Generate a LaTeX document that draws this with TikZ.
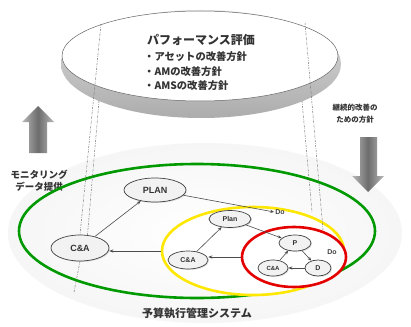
\documentclass[tikz,border=0pt]{standalone}
\usepackage{fontspec}
\setmainfont{Liberation Sans}
\newfontfamily\jp{Noto Sans CJK JP}
\usetikzlibrary{shapes.geometric,arrows.meta,shadows}
\pgfdeclareradialshading{diskshade}{\pgfpoint{0bp}{0bp}}{color(0bp)=(white); color(28bp)=(white!92!gray); color(40bp)=(gray!25); color(50bp)=(gray!55)}
\tikzset{
  cyc/.style={ellipse, draw=black!75, line width=0.7pt, fill=gray!10, inner sep=0pt, text=black!80,
    drop shadow={shadow xshift=1pt, shadow yshift=-1pt, fill=gray!45}},
  ring/.style={ellipse, inner sep=0pt, line width=2.6pt},
  flow/.style={-{Stealth[length=4pt,width=3.2pt]}, line width=0.6pt, draw=black!70},
  guide/.style={draw=black!55, line width=0.5pt, dash pattern=on 2pt off 1.2pt on 0.5pt off 1.2pt},
  jptext/.style={text=black!80, inner sep=0pt},
  bigarrow/.style={left color=gray!55, right color=gray!55, middle color=gray!85!black, draw=none},
}
\begin{document}
\begin{tikzpicture}[x=1pt,y=-1pt]
\useasboundingbox (0,0) rectangle (411,326);
\fill[white] (0,0) rectangle (411,326);

% lower disk
\shade[shading=diskshade] (205,233) ellipse [x radius=197, y radius=90];

% upper disk
\shade[top color=gray!25, bottom color=gray!65] (201,64) ellipse [x radius=140, y radius=54];
\node[ellipse, draw=black!60, line width=0.5pt, fill=white, minimum width=276pt, minimum height=90pt, inner sep=0pt] (eval) at (200,56) {};

\node[jptext, font=\jp\bfseries\fontsize{12}{12}\selectfont] (title) at (201,40) {パフォーマンス評価};
\node[jptext, anchor=west, font=\jp\bfseries\fontsize{10.3}{10}\selectfont] (it1) at (144,57) {・アセットの改善方針};
\node[jptext, anchor=west, font=\jp\bfseries\fontsize{10.3}{10}\selectfont] (it2) at (144,72) {・AMの改善方針};
\node[jptext, anchor=west, font=\jp\bfseries\fontsize{10.3}{10}\selectfont] (it3) at (144,86) {・AMSの改善方針};

% big arrows
\path[bigarrow] (29,153) -- (29,122) -- (22,122) -- (38,106) -- (54,122) -- (47,122) -- (47,153) -- cycle;
\path[bigarrow] (360,137) -- (377,137) -- (377,176) -- (384,176) -- (368,192) -- (352,176) -- (360,176) -- cycle;

\node[jptext, align=center, font=\jp\bfseries\fontsize{9.5}{12}\selectfont] (mon) at (39,181) {モニタリング\\データ提供};
\node[jptext, align=center, font=\jp\bfseries\fontsize{7.5}{12}\selectfont] (pol) at (355,114) {継続的改善の\\ための方針};
\node[jptext, font=\jp\bfseries\fontsize{11}{11}\selectfont] (sys) at (197,313) {予算執行管理システム};

% rings
\node[ring, draw=green!60!black, minimum width=356pt, minimum height=134pt] (green) at (197,231) {};
\node[ring, draw=yellow!90!orange, fill=white, minimum width=182pt, minimum height=88pt] (yellow) at (253,251) {};
\node[ring, draw=red!90!black, fill=white, minimum width=104pt, minimum height=60pt] (red) at (294,257) {};

% cycle nodes
\node[cyc, minimum width=62pt, minimum height=24pt, font=\bfseries\fontsize{9}{9}\selectfont] (PLAN) at (155,190) {PLAN};
\node[cyc, minimum width=58pt, minimum height=26pt, font=\bfseries\fontsize{9}{9}\selectfont] (CA1) at (80,248) {C\&A};
\node[cyc, minimum width=42pt, minimum height=17pt, font=\bfseries\fontsize{7}{7}\selectfont] (Plan2) at (230,219) {Plan};
\node[cyc, minimum width=40pt, minimum height=18pt, font=\bfseries\fontsize{7}{7}\selectfont] (CA2) at (188,260) {C\&A};
\node[cyc, minimum width=32pt, minimum height=16pt, font=\bfseries\fontsize{7}{7}\selectfont] (P) at (295,243) {P};
\node[cyc, minimum width=30pt, minimum height=16pt, font=\bfseries\fontsize{6}{6}\selectfont] (CA3) at (273,268) {C\&A};
\node[cyc, minimum width=26pt, minimum height=16pt, font=\bfseries\fontsize{7}{7}\selectfont] (D) at (318,268) {D};
\node[text=black!75, font=\bfseries\fontsize{7}{7}\selectfont, inner sep=1pt] (Do1) at (280,212) {Do};
\node[text=black!75, font=\bfseries\fontsize{7}{7}\selectfont, inner sep=1pt] (Do2) at (332,252) {Do};

% guide lines
\coordinate (l1t) at (101,24);
\coordinate (l2t) at (99,101);
\coordinate (l3b) at (74,292);
\coordinate (r1t) at (305,23);
\coordinate (r1b) at (323,230);
\coordinate (r2t) at (302,101);
\coordinate (r2b) at (312,212);
\draw[guide] (l1t) -- (CA1.north);
\draw[guide] (l2t) -- (CA1.60);
\draw[guide] (CA1.south) -- (l3b);
\draw[guide] (r1t) -- (r1b);
\draw[guide] (r2t) -- (r2b);

% flows
\draw[flow] (CA1) -- (PLAN);
\draw[flow] (PLAN) -- (Do1.west);
\draw[flow] (yellow.west) -- (yellow.west -| CA1.east);
\draw[flow] (CA2) -- (Plan2);
\draw[flow] (Plan2) -- (P);
\draw[flow] (red.west) -- (red.west -| CA2.east);
\draw[flow] (CA3) -- (P);
\draw[flow] (P) -- (D);
\draw[flow] (D) -- (CA3);
\end{tikzpicture}
\end{document}
